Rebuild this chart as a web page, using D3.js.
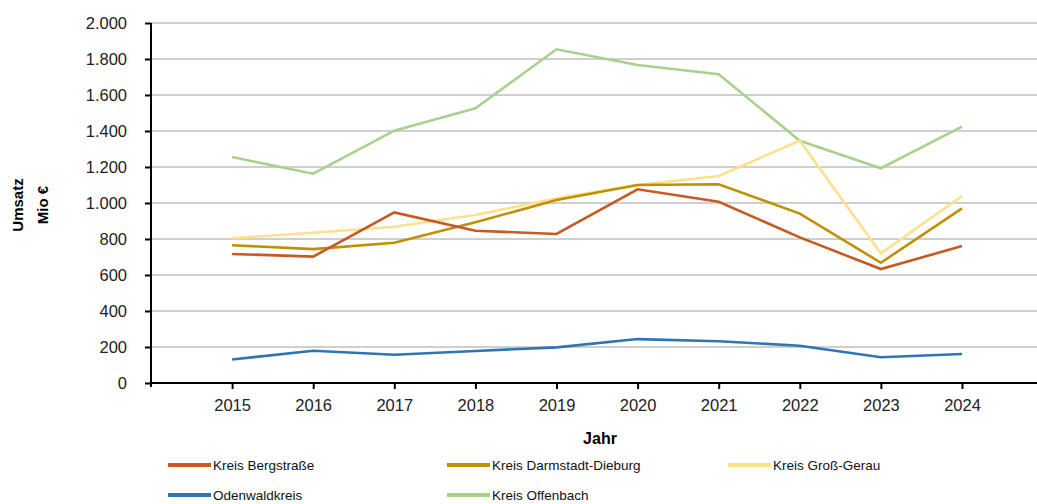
<!DOCTYPE html>
<html>
<head>
<meta charset="utf-8">
<script src="https://cdn.jsdelivr.net/npm/d3@7"></script>
<style>
  body { margin: 0; background: #fff; }
  text { font-family: "Liberation Sans", Arial, sans-serif; }
</style>
</head>
<body>
<script>
// data (Umsatz, Mio €)
var years = [2015, 2016, 2017, 2018, 2019, 2020, 2021, 2022, 2023, 2024];
var bergstrasse = [717, 702, 948, 846, 828, 1076, 1007, 809, 633, 761];
var darmstadtDieburg = [765, 744, 779, 893, 1017, 1100, 1104, 941, 668, 970];
var grossGerau = [804, 835, 868, 933, 1026, 1100, 1150, 1346, 720, 1039];
var odenwald = [131, 179, 157, 178, 198, 244, 232, 207, 143, 161];
var offenbach = [1255, 1163, 1402, 1526, 1854, 1767, 1715, 1346, 1193, 1424];
var yTicks = [0, 200, 400, 600, 800, 1000, 1200, 1400, 1600, 1800, 2000];

var series = [
    {name: "Kreis Bergstraße", values: bergstrasse, color: "#c55a22"},
    {name: "Kreis Darmstadt-Dieburg", values: darmstadtDieburg, color: "#bf9000"},
    {name: "Kreis Groß-Gerau", values: grossGerau, color: "#ffe08c"},
    {name: "Odenwaldkreis", values: odenwald, color: "#2e75b6"},
    {name: "Kreis Offenbach", values: offenbach, color: "#a9d18e"}
];
// draw order: background lines first
var drawOrder = [4, 2, 1, 0, 3];

var W = 1037, H = 504;
var plotLeft = 151, plotRight = 1037, plotTop = 23, plotBottom = 383;

var svg = d3.select("body").append("svg")
    .attr("width", W)
    .attr("height", H);

var x = d3.scaleLinear()
    .domain([2014, 2024])
    .range([plotLeft, 962]);

var y = d3.scaleLinear()
    .domain([0, 2000])
    .range([plotBottom, plotTop]);

var de = d3.formatLocale({decimal: ",", thousands: ".", grouping: [3], currency: ["", " €"]});
var fmt = de.format(",d");

// gridlines
svg.append("g")
    .selectAll("line")
    .data(yTicks.filter(function(d){ return d > 0; }))
    .enter().append("line")
        .attr("x1", plotLeft)
        .attr("x2", plotRight)
        .attr("y1", function(d){ return y(d); })
        .attr("y2", function(d){ return y(d); })
        .attr("stroke", "#bfbfbf")
        .attr("stroke-width", 1.5);

// y axis
var yAxis = svg.append("g")
    .attr("transform", "translate(" + plotLeft + ",0)")
    .call(d3.axisLeft(y).tickValues(yTicks).tickFormat(fmt).tickSize(6).tickPadding(18));
yAxis.select(".domain").attr("stroke", "#000").attr("stroke-width", 2)
    .attr("d", "M0," + plotTop + "V" + (plotBottom + 4));
yAxis.selectAll(".tick line").attr("stroke", "#000").attr("stroke-width", 2);
yAxis.selectAll("text")
    .style("font-family", "'Liberation Sans', Arial, sans-serif")
    .style("font-size", "16.5px")
    .attr("fill", "#222");

// x axis
var xAxis = svg.append("g")
    .attr("transform", "translate(0," + plotBottom + ")")
    .call(d3.axisBottom(x).tickValues(years).tickFormat(d3.format("d")).tickSize(6).tickPadding(10));
xAxis.select(".domain").attr("stroke", "#000").attr("stroke-width", 2)
    .attr("d", "M" + plotLeft + ",0H" + plotRight);
xAxis.selectAll(".tick line").attr("stroke", "#000").attr("stroke-width", 2);
xAxis.selectAll("text")
    .style("font-family", "'Liberation Sans', Arial, sans-serif")
    .style("font-size", "16.5px")
    .attr("fill", "#222");

// lines
var line = d3.line()
    .x(function(d, i){ return x(years[i]); })
    .y(function(d){ return y(d); });

svg.append("g")
    .selectAll("path")
    .data(drawOrder.map(function(k){ return series[k]; }))
    .enter().append("path")
        .attr("d", function(d){ return line(d.values); })
        .attr("fill", "none")
        .attr("stroke", function(d){ return d.color; })
        .attr("stroke-width", 2.6)
        .attr("stroke-linejoin", "miter");

// axis titles
svg.append("text")
    .attr("transform", "translate(23,205) rotate(-90)")
    .attr("text-anchor", "middle")
    .style("font-size", "15px")
    .style("font-weight", "bold")
    .text("Umsatz");
svg.append("text")
    .attr("transform", "translate(48,205) rotate(-90)")
    .attr("text-anchor", "middle")
    .style("font-size", "15px")
    .style("font-weight", "bold")
    .text("Mio €");
svg.append("text")
    .attr("x", 600)
    .attr("y", 444)
    .attr("text-anchor", "middle")
    .style("font-size", "16px")
    .style("font-weight", "bold")
    .text("Jahr");

// legend
var legendPos = [[168, 465], [447, 465], [728, 465], [168, 495], [447, 495]];
var legend = svg.append("g")
    .selectAll("g")
    .data(series)
    .enter().append("g")
        .attr("transform", function(d, i){ return "translate(" + legendPos[i][0] + "," + legendPos[i][1] + ")"; });
legend.append("line")
    .attr("x1", 0)
    .attr("x2", 43)
    .attr("stroke", function(d){ return d.color; })
    .attr("stroke-width", 4);
legend.append("text")
    .attr("x", 45)
    .attr("y", 5)
    .style("font-size", "13.5px")
    .attr("fill", "#111")
    .text(function(d){ return d.name; });
</script>
</body>
</html>
